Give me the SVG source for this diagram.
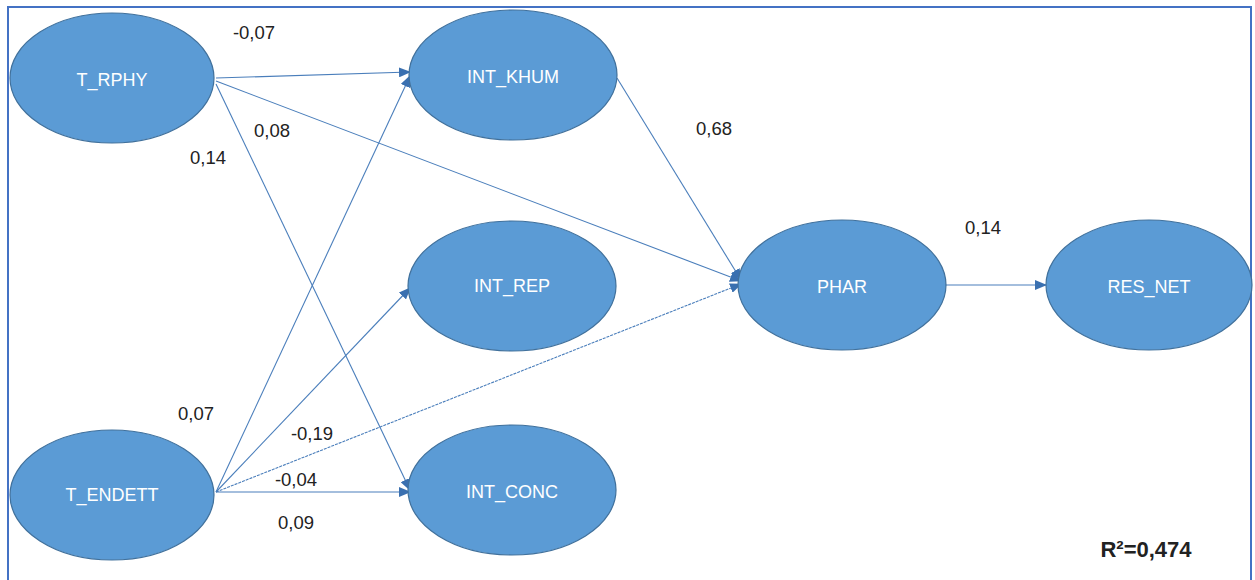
<svg xmlns="http://www.w3.org/2000/svg" width="1255" height="580" viewBox="0 0 1255 580">
<style>
.node ellipse{fill:#5B9BD5;stroke:#41719C;stroke-width:1.2}
.node text{fill:#fff;font-family:"Liberation Sans",Arial,sans-serif;font-size:18px;text-anchor:middle;dominant-baseline:central}
.edge{stroke:#4A7EBB;stroke-width:1.1;fill:none;marker-end:url(#ah)}
.lbl{fill:#222;font-family:"Liberation Sans",Arial,sans-serif;font-size:18.5px;text-anchor:middle;dominant-baseline:central}
</style>
<defs>
<marker id="ah" markerUnits="userSpaceOnUse" markerWidth="12" markerHeight="10" refX="11" refY="5" orient="auto">
<path d="M0,0 L12,5 L0,10 Z" fill="#3A70B0"/>
</marker>
</defs>
<rect x="0" y="0" width="1255" height="580" fill="#fff"/>
<rect x="8" y="7" width="1243" height="590" fill="none" stroke="#4472C4" stroke-width="2"/>
<g id="connectors">
<line class="edge" x1="216" y1="78" x2="410" y2="72"/>
<line class="edge" x1="216" y1="81" x2="741" y2="281"/>
<line class="edge" x1="216" y1="84" x2="410" y2="490"/>
<line class="edge" x1="216" y1="492" x2="410" y2="76"/>
<line class="edge" x1="216" y1="492" x2="410" y2="288"/>
<line class="edge" x1="216" y1="492" x2="741" y2="284" stroke-dasharray="3,1"/>
<line class="edge" x1="216" y1="492" x2="410" y2="492"/>
<line class="edge" x1="617" y1="78" x2="741" y2="280"/>
<line class="edge" x1="945" y1="285" x2="1046" y2="285"/>
</g>
<g id="labels">
<text class="lbl" x="254" y="32">-0,07</text>
<text class="lbl" x="272" y="130">0,08</text>
<text class="lbl" x="208" y="157">0,14</text>
<text class="lbl" x="196" y="413">0,07</text>
<text class="lbl" x="312" y="433">-0,19</text>
<text class="lbl" x="296" y="479">-0,04</text>
<text class="lbl" x="296" y="522">0,09</text>
<text class="lbl" x="714" y="128">0,68</text>
<text class="lbl" x="983" y="227">0,14</text>
<text class="lbl" x="1146" y="549" style="font-weight:bold;font-size:22px">R²=0,474</text>
</g>
<g id="T_RPHY" class="node"><ellipse cx="112" cy="78" rx="102" ry="65"/><text x="112" y="80">T_RPHY</text></g>
<g id="INT_KHUM" class="node"><ellipse cx="513" cy="75" rx="104" ry="65"/><text x="513" y="77">INT_KHUM</text></g>
<g id="INT_REP" class="node"><ellipse cx="512" cy="286" rx="104" ry="65"/><text x="512" y="286">INT_REP</text></g>
<g id="INT_CONC" class="node"><ellipse cx="512" cy="490" rx="104" ry="65"/><text x="512" y="492">INT_CONC</text></g>
<g id="T_ENDETT" class="node"><ellipse cx="112" cy="495" rx="102" ry="65"/><text x="112" y="495">T_ENDETT</text></g>
<g id="PHAR" class="node"><ellipse cx="842" cy="285" rx="104" ry="65"/><text x="842" y="287">PHAR</text></g>
<g id="RES_NET" class="node"><ellipse cx="1149" cy="285" rx="103" ry="65"/><text x="1149" y="287">RES_NET</text></g>
</svg>
